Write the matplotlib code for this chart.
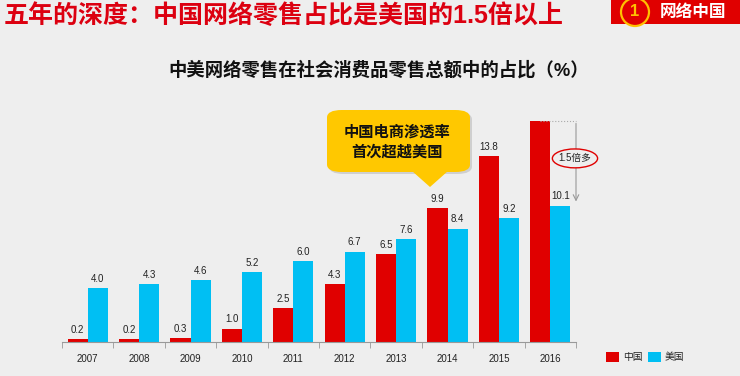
import matplotlib.pyplot as plt
from matplotlib.patches import FancyBboxPatch, Polygon, Rectangle, Ellipse
import numpy as np

plt.rcParams['font.family'] = ['Liberation Sans', 'Noto Sans CJK SC']

# data
years = ['2007', '2008', '2009', '2010', '2011', '2012', '2013', '2014', '2015', '2016']
china = [0.2, 0.2, 0.3, 1.0, 2.5, 4.3, 6.5, 9.9, 13.8, 16.4]
usa = [4.0, 4.3, 4.6, 5.2, 6.0, 6.7, 7.6, 8.4, 9.2, 10.1]
china_labels = ['0.2', '0.2', '0.3', '1.0', '2.5', '4.3', '6.5', '9.9', '13.8', '']
usa_labels = ['4.0', '4.3', '4.6', '5.2', '6.0', '6.7', '7.6', '8.4', '9.2', '10.1']

RED = '#E00000'
BLUE = '#00BFF3'
BG = '#EEEEEE'

W, H = 740, 376
def fx(px):
    return px / W
def fy(py):
    return 1 - py / H

fig = plt.figure(figsize=(7.4, 3.76), dpi=100, facecolor=BG)

# axes placed by pixels: baseline at y=342, x from 62 to 576
ax = fig.add_axes([fx(62), fy(342), (576 - 62) / W, 243 / H])
ax.set_facecolor(BG)
x = np.arange(len(years))
bw = 0.39
ax.bar(x - bw / 2, china, bw, color=RED, zorder=2)
ax.bar(x + bw / 2, usa, bw, color=BLUE, zorder=2)
for i in range(len(years)):
    if china_labels[i]:
        ax.annotate(china_labels[i], (x[i] - bw / 2, china[i]), xytext=(0, 3),
                    textcoords='offset points', ha='center', va='bottom', fontsize=7, color='#222222')
    ax.annotate(usa_labels[i], (x[i] + bw / 2, usa[i]), xytext=(0, 3),
                textcoords='offset points', ha='center', va='bottom', fontsize=7, color='#222222')

ax.set_xlim(-0.5, len(years) - 0.5)
ax.set_ylim(0, 18)
for s in ['top', 'right', 'left']:
    ax.spines[s].set_visible(False)
ax.spines['bottom'].set_color('#999999')
ax.set_yticks([])
ax.set_xticks(x)
ax.set_xticklabels(years, fontsize=7, color='#222222')
ax.tick_params(axis='x', which='major', length=0, pad=9)
ax.set_xticks(np.arange(-0.5, len(years)), minor=True)
ax.tick_params(axis='x', which='minor', length=4, color='#999999', direction='out')

# 1.5x annotation
ax.plot([x[-1] - bw / 2, 9.5], [china[-1], china[-1]], ls=':', color='#AAAAAA', lw=0.8, clip_on=False)
ax.annotate('', xy=(9.5, usa[-1] + 0.1), xytext=(9.5, china[-1]),
            arrowprops=dict(arrowstyle='->', color='#999999', lw=0.8), annotation_clip=False)
ax.add_patch(Ellipse((9.48, 13.6), 0.88, 1.4, facecolor=BG, edgecolor=RED, lw=1.0, clip_on=False, zorder=3))
ax.text(9.48, 13.6, '1.5倍多', ha='center', va='center', fontsize=7, color='#222222', zorder=4, clip_on=False)

# title
fig.text(fx(4), fy(16), '五年的深度：中国网络零售占比是美国的1.5倍以上', fontsize=18, fontweight='bold',
         color='#DC0010', ha='left', va='center')
fig.text(fx(379), fy(70), '中美网络零售在社会消费品零售总额中的占比（%）', fontsize=13.2, fontweight='bold',
         color='#111111', ha='center', va='center')

# badge
fig.patches.append(Rectangle((fx(611), fy(24)), fx(740) - fx(611), fy(0) - fy(24),
                             transform=fig.transFigure, facecolor=RED, edgecolor='none'))
fig.patches.append(Ellipse((fx(635), fy(12)), 28 / W, 28 / H, transform=fig.transFigure,
                           facecolor=RED, edgecolor='#FFC000', lw=1.6))
fig.text(fx(635), fy(12), '1', fontsize=12, fontweight='bold', color='#FFC000', ha='center', va='center')
fig.text(fx(693), fy(12), '网络中国', fontsize=12, fontweight='bold', color='white', ha='center', va='center')

# callout
fig.patches.append(FancyBboxPatch((fx(329), fy(174)), fx(470) - fx(327), fy(110) - fy(172),
                                  boxstyle='round,pad=0,rounding_size=0.02', transform=fig.transFigure,
                                  facecolor='#BBBBBB', edgecolor='none', alpha=0.6))
fig.patches.append(FancyBboxPatch((fx(327), fy(172)), fx(470) - fx(327), fy(110) - fy(172),
                                  boxstyle='round,pad=0,rounding_size=0.02', transform=fig.transFigure,
                                  facecolor='#FFC800', edgecolor='none'))
fig.patches.append(Polygon([(fx(412), fy(171)), (fx(448), fy(171)), (fx(430), fy(187))],
                           transform=fig.transFigure, facecolor='#FFC800', edgecolor='none'))
fig.text(fx(397), fy(132), '中国电商渗透率', fontsize=11, fontweight='bold', color='#111111', ha='center', va='center')
fig.text(fx(397), fy(152), '首次超越美国', fontsize=11, fontweight='bold', color='#111111', ha='center', va='center')

# legend
fig.patches.append(Rectangle((fx(606), fy(362)), 13 / W, 10 / H, transform=fig.transFigure, facecolor=RED))
fig.text(fx(623), fy(357), '中国', fontsize=7, color='#222222', ha='left', va='center')
fig.patches.append(Rectangle((fx(648), fy(362)), 13 / W, 10 / H, transform=fig.transFigure, facecolor=BLUE))
fig.text(fx(665), fy(357), '美国', fontsize=7, color='#222222', ha='left', va='center')

fig.savefig('out.png', dpi=100, facecolor=BG)
